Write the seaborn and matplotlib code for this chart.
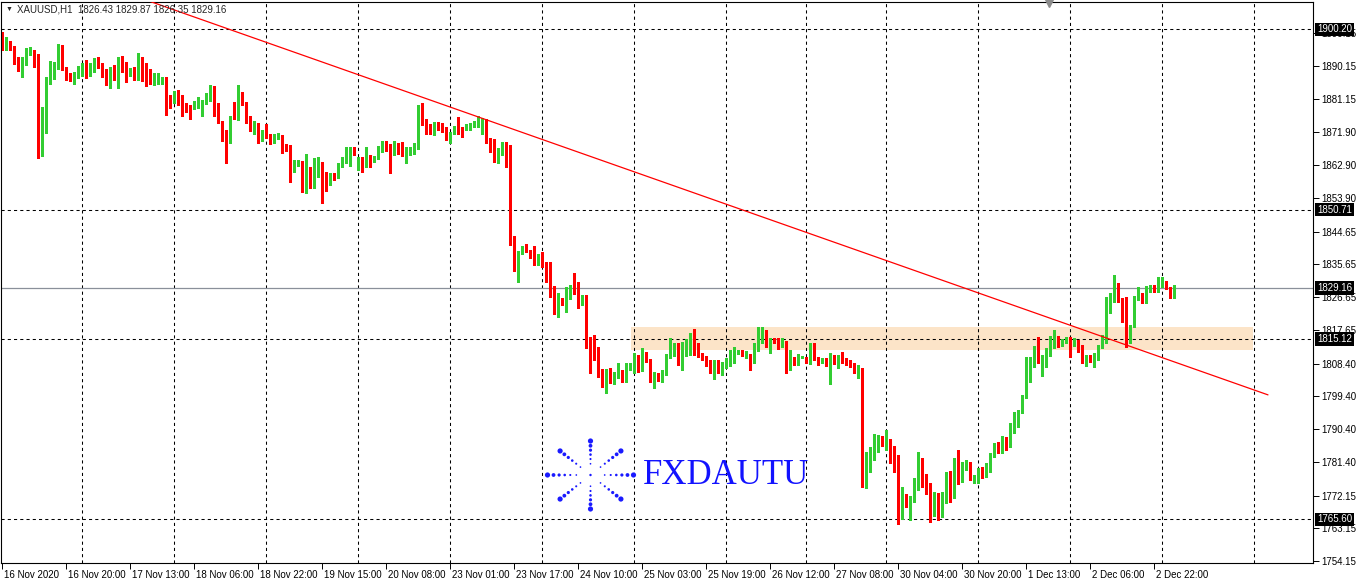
import numpy as np
import pandas as pd
import seaborn as sns
import matplotlib
matplotlib.use("Agg")
import matplotlib.pyplot as plt
import matplotlib.transforms as mtransforms

# XAUUSD H1 candles (one value per hourly bar)
opens = [
    1899.1, 1895.2, 1895.7, 1895.6, 1892.1, 1890.0, 1891.3, 1894.1, 1894.5, 1891.8,
    1869.5, 1876.5, 1886.0, 1887.7, 1889.8, 1895.4, 1889.5, 1887.2, 1886.5, 1887.5,
    1889.1, 1890.1, 1888.3, 1888.9, 1891.3, 1890.6, 1888.9, 1886.9, 1889.0, 1887.1,
    1891.0, 1890.4, 1888.6, 1889.0, 1886.8, 1891.5, 1891.0, 1888.8, 1885.7, 1885.7,
    1885.4, 1887.2, 1881.4, 1880.2, 1882.7, 1881.4, 1879.3, 1878.7, 1878.3, 1879.4,
    1879.7, 1880.0, 1882.4, 1883.8, 1879.8, 1875.0, 1872.1, 1870.5, 1876.1, 1875.5,
    1882.0, 1880.3, 1875.3, 1873.2, 1874.6, 1870.2, 1872.9, 1871.5, 1869.2, 1870.3,
    1871.2, 1868.3, 1866.9, 1862.5, 1863.4, 1864.1, 1857.2, 1861.6, 1858.8, 1862.5,
    1862.9, 1860.7, 1858.6, 1860.2, 1859.7, 1862.7, 1864.0, 1865.2, 1866.9, 1862.8,
    1863.2, 1863.0, 1865.2, 1864.1, 1864.8, 1867.5, 1869.4, 1867.4, 1866.0, 1867.7,
    1867.3, 1865.4, 1866.0, 1866.0, 1867.3, 1875.8, 1874.9, 1872.8, 1872.6, 1874.1,
    1873.9, 1873.0, 1870.5, 1872.1, 1873.5, 1873.5, 1873.0, 1873.5, 1873.8, 1874.0,
    1874.0, 1875.5, 1869.4, 1869.4, 1865.4, 1866.6, 1868.9, 1867.3, 1841.7, 1834.8,
    1839.2, 1839.9, 1839.6, 1838.2, 1836.1, 1838.2, 1836.0, 1836.4, 1829.1, 1822.2,
    1825.9, 1824.8, 1826.5, 1829.0, 1827.9, 1824.8, 1825.9, 1813.2, 1810.5, 1810.5,
    1806.2, 1805.3, 1805.9, 1803.4, 1805.0, 1806.2, 1804.1, 1807.1, 1807.4, 1809.4,
    1806.5, 1810.9, 1809.4, 1804.1, 1805.0, 1804.3, 1805.7, 1810.1, 1810.8, 1813.7,
    1808.6, 1812.9, 1813.2, 1814.4, 1813.7, 1810.8, 1810.3, 1808.9, 1806.5, 1806.9,
    1806.6, 1807.6, 1808.3, 1808.6, 1811.4, 1811.7, 1811.0, 1810.8, 1808.6, 1812.1,
    1815.3, 1816.2, 1814.1, 1814.9, 1814.7, 1813.2, 1814.4, 1807.6, 1809.8, 1808.6,
    1810.1, 1810.3, 1809.2, 1813.2, 1809.8, 1808.9, 1809.4, 1808.0, 1810.3, 1808.9,
    1810.3, 1809.4, 1808.9, 1808.0, 1806.2, 1806.9, 1778.6, 1779.0, 1782.1, 1784.8,
    1788.1, 1786.3, 1787.2, 1783.3, 1783.3, 1766.8, 1770.9, 1769.8, 1770.7, 1774.1,
    1781.9, 1776.1, 1774.1, 1767.7, 1772.0, 1768.9, 1772.6, 1778.4, 1773.2, 1781.9,
    1778.1, 1779.4, 1781.2, 1776.4, 1777.5, 1778.9, 1778.1, 1779.0, 1783.0, 1784.8,
    1784.2, 1787.4, 1786.0, 1791.1, 1793.8, 1795.2, 1799.3, 1806.4, 1808.0, 1813.0,
    1808.9, 1810.3, 1810.8, 1813.0, 1814.7, 1813.5, 1814.1, 1815.3, 1813.8, 1814.4,
    1813.2, 1808.9, 1810.5, 1809.4, 1809.8, 1812.9, 1815.6, 1825.0, 1825.7, 1830.0,
    1826.0, 1820.6, 1815.6, 1818.5, 1826.3, 1827.2, 1825.9, 1829.1, 1829.7, 1828.4,
    1830.0, 1830.9, 1829.1, 1826.43,
]
highs = [
    1899.6, 1898.1, 1897.0, 1895.7, 1892.5, 1892.5, 1895.0, 1895.4, 1894.6, 1893.4,
    1879.0, 1887.2, 1891.5, 1891.2, 1896.2, 1895.9, 1889.9, 1888.1, 1888.6, 1890.2,
    1891.1, 1891.8, 1891.0, 1892.3, 1892.7, 1890.9, 1889.2, 1889.8, 1890.4, 1892.5,
    1892.9, 1891.3, 1889.5, 1889.8, 1893.7, 1892.6, 1891.1, 1889.3, 1888.1, 1888.2,
    1887.2, 1887.2, 1882.2, 1883.4, 1883.5, 1882.3, 1879.9, 1879.4, 1880.5, 1881.6,
    1880.9, 1882.8, 1884.9, 1884.7, 1880.0, 1875.0, 1872.6, 1876.4, 1880.3, 1884.9,
    1882.9, 1880.3, 1876.3, 1875.1, 1874.6, 1872.7, 1874.1, 1871.6, 1871.5, 1871.8,
    1871.2, 1868.6, 1868.4, 1864.3, 1864.3, 1864.1, 1866.0, 1862.5, 1865.0, 1865.2,
    1863.9, 1861.1, 1860.7, 1860.7, 1863.4, 1865.2, 1867.8, 1868.0, 1867.8, 1865.2,
    1865.2, 1868.0, 1865.7, 1865.4, 1868.2, 1869.6, 1869.6, 1868.6, 1869.5, 1868.9,
    1869.2, 1868.0, 1868.0, 1869.1, 1879.4, 1879.9, 1875.5, 1874.2, 1874.9, 1874.9,
    1874.4, 1873.5, 1872.1, 1873.7, 1876.2, 1873.5, 1874.1, 1874.4, 1875.1, 1876.4,
    1876.0, 1875.5, 1870.3, 1870.0, 1867.5, 1869.4, 1869.4, 1868.4, 1843.5, 1839.3,
    1840.7, 1841.2, 1839.6, 1840.7, 1838.5, 1839.1, 1836.4, 1836.4, 1829.7, 1827.9,
    1826.3, 1829.3, 1830.0, 1833.2, 1830.9, 1827.2, 1827.2, 1815.8, 1816.3, 1812.9,
    1806.8, 1806.8, 1807.1, 1806.0, 1808.5, 1806.5, 1808.5, 1808.6, 1811.2, 1810.8,
    1812.8, 1811.5, 1809.6, 1806.2, 1805.8, 1806.6, 1811.0, 1815.3, 1814.0, 1814.1,
    1814.4, 1815.1, 1816.7, 1817.9, 1814.0, 1811.3, 1810.6, 1809.4, 1809.4, 1809.4,
    1808.9, 1809.8, 1812.1, 1812.9, 1812.1, 1812.2, 1811.9, 1811.0, 1814.0, 1818.5,
    1818.4, 1817.6, 1815.3, 1815.3, 1815.3, 1815.3, 1814.6, 1812.1, 1810.3, 1811.0,
    1810.5, 1810.3, 1814.0, 1814.0, 1810.3, 1810.0, 1809.8, 1811.2, 1810.8, 1810.8,
    1811.5, 1809.8, 1809.4, 1808.5, 1808.0, 1807.1, 1784.2, 1785.6, 1789.0, 1788.8,
    1788.5, 1790.2, 1787.6, 1785.7, 1783.3, 1774.6, 1772.6, 1772.0, 1776.9, 1784.2,
    1782.4, 1778.1, 1775.5, 1773.2, 1772.9, 1773.2, 1778.7, 1779.0, 1782.4, 1784.7,
    1781.4, 1781.9, 1781.4, 1777.8, 1779.6, 1780.1, 1781.0, 1783.9, 1786.5, 1786.9,
    1788.5, 1788.3, 1792.0, 1795.2, 1795.6, 1799.8, 1810.3, 1810.3, 1813.2, 1815.6,
    1810.8, 1812.6, 1816.0, 1817.6, 1816.0, 1815.1, 1815.6, 1815.8, 1815.3, 1814.9,
    1813.5, 1810.8, 1810.8, 1811.2, 1813.5, 1816.2, 1826.8, 1827.7, 1832.7, 1830.4,
    1826.3, 1826.6, 1818.9, 1827.0, 1829.5, 1827.7, 1829.7, 1830.0, 1830.0, 1832.1,
    1832.1, 1831.2, 1829.3, 1829.87,
]
lows = [
    1894.6, 1894.6, 1894.6, 1890.7, 1888.9, 1887.2, 1890.4, 1893.2, 1890.0, 1864.8,
    1865.5, 1871.8, 1885.2, 1886.5, 1889.3, 1889.1, 1886.4, 1886.1, 1885.3, 1886.8,
    1887.5, 1886.9, 1887.5, 1888.6, 1889.7, 1887.1, 1884.9, 1884.2, 1886.2, 1884.2,
    1888.6, 1885.8, 1887.5, 1886.3, 1886.3, 1886.1, 1884.6, 1885.1, 1884.9, 1885.3,
    1885.3, 1876.7, 1878.7, 1880.0, 1879.4, 1876.5, 1877.4, 1875.6, 1878.2, 1878.7,
    1876.5, 1879.6, 1880.5, 1876.4, 1874.4, 1869.5, 1863.6, 1869.1, 1875.7, 1875.3,
    1879.4, 1874.4, 1872.3, 1871.4, 1869.1, 1869.5, 1870.3, 1868.6, 1868.9, 1870.0,
    1866.2, 1866.8, 1858.4, 1861.1, 1862.7, 1855.6, 1855.2, 1856.5, 1856.7, 1859.7,
    1852.6, 1855.9, 1857.5, 1858.8, 1859.3, 1862.3, 1863.4, 1862.8, 1865.7, 1861.6,
    1861.1, 1862.3, 1862.3, 1863.9, 1864.6, 1866.6, 1866.9, 1860.8, 1865.8, 1866.0,
    1865.4, 1863.4, 1865.7, 1866.0, 1867.3, 1873.9, 1871.4, 1871.4, 1871.2, 1872.6,
    1872.1, 1869.8, 1868.9, 1871.6, 1871.6, 1870.6, 1872.6, 1872.7, 1873.5, 1873.5,
    1871.6, 1868.9, 1866.6, 1863.9, 1863.6, 1865.7, 1862.3, 1841.0, 1833.9, 1830.9,
    1838.5, 1839.1, 1837.3, 1835.5, 1835.5, 1834.8, 1830.9, 1826.8, 1821.9, 1821.3,
    1824.5, 1822.7, 1826.1, 1827.5, 1823.6, 1824.5, 1812.6, 1805.9, 1809.4, 1804.6,
    1802.1, 1800.2, 1803.0, 1802.8, 1804.4, 1803.2, 1803.4, 1806.5, 1805.9, 1806.2,
    1806.3, 1808.8, 1803.2, 1801.8, 1803.6, 1803.4, 1805.3, 1809.8, 1810.5, 1808.0,
    1806.5, 1810.5, 1810.8, 1810.8, 1810.2, 1809.3, 1807.8, 1805.7, 1804.1, 1805.7,
    1805.3, 1807.1, 1807.6, 1808.5, 1811.0, 1810.5, 1809.8, 1806.6, 1808.5, 1811.9,
    1814.0, 1813.0, 1811.2, 1814.0, 1812.3, 1813.0, 1805.9, 1806.6, 1808.0, 1808.0,
    1809.8, 1808.5, 1808.3, 1809.4, 1808.0, 1808.6, 1807.6, 1802.8, 1808.3, 1807.1,
    1808.5, 1808.0, 1807.4, 1805.9, 1804.4, 1774.6, 1774.3, 1778.7, 1781.9, 1784.2,
    1785.8, 1784.7, 1781.0, 1778.7, 1764.3, 1765.6, 1769.1, 1765.4, 1770.5, 1773.8,
    1774.6, 1772.6, 1764.8, 1766.5, 1765.4, 1766.3, 1770.0, 1770.5, 1771.4, 1775.3,
    1775.9, 1779.2, 1776.4, 1775.5, 1775.5, 1776.9, 1777.3, 1778.7, 1782.6, 1783.7,
    1783.7, 1784.7, 1785.4, 1789.4, 1791.1, 1794.9, 1798.9, 1803.2, 1807.5, 1808.6,
    1805.0, 1807.5, 1810.5, 1812.6, 1813.0, 1813.3, 1814.0, 1810.3, 1813.2, 1811.7,
    1808.6, 1807.7, 1808.9, 1807.5, 1809.4, 1812.6, 1814.0, 1822.2, 1825.4, 1825.4,
    1819.9, 1812.9, 1814.0, 1818.4, 1826.0, 1825.0, 1825.0, 1828.1, 1828.1, 1828.1,
    1829.5, 1828.8, 1826.3, 1826.35,
]
closes = [
    1894.8, 1895.7, 1895.4, 1891.9, 1890.2, 1891.5, 1893.9, 1894.6, 1891.6, 1869.4,
    1876.7, 1886.3, 1888.0, 1890.2, 1895.4, 1889.3, 1886.9, 1886.1, 1887.7, 1889.0,
    1890.2, 1888.3, 1889.0, 1891.3, 1890.4, 1888.6, 1886.9, 1889.0, 1887.1, 1891.1,
    1890.1, 1888.4, 1889.1, 1886.6, 1891.5, 1890.7, 1888.6, 1885.8, 1887.2, 1887.2,
    1887.2, 1881.1, 1880.3, 1883.1, 1881.1, 1878.9, 1878.3, 1878.4, 1879.6, 1880.1,
    1880.2, 1882.5, 1883.6, 1879.4, 1874.9, 1871.7, 1870.5, 1876.2, 1875.7, 1881.9,
    1880.1, 1875.0, 1873.2, 1874.6, 1870.2, 1872.4, 1871.6, 1869.4, 1870.5, 1871.2,
    1868.3, 1866.9, 1862.5, 1863.9, 1864.0, 1857.2, 1861.6, 1858.8, 1862.7, 1862.9,
    1860.7, 1858.6, 1860.2, 1859.7, 1862.9, 1864.1, 1865.7, 1866.9, 1866.0, 1863.4,
    1863.0, 1865.1, 1864.1, 1865.2, 1868.0, 1869.2, 1868.4, 1866.0, 1867.5, 1867.1,
    1865.4, 1866.6, 1867.5, 1867.7, 1875.5, 1874.1, 1872.6, 1872.3, 1873.9, 1873.7,
    1872.8, 1870.3, 1872.1, 1873.5, 1873.2, 1873.2, 1873.5, 1873.9, 1874.1, 1875.8,
    1875.3, 1869.1, 1868.9, 1865.4, 1866.6, 1868.9, 1867.1, 1841.4, 1834.8, 1839.3,
    1840.1, 1839.3, 1838.0, 1836.1, 1838.0, 1836.0, 1834.8, 1827.7, 1822.2, 1825.9,
    1824.5, 1826.8, 1829.0, 1827.5, 1824.8, 1825.9, 1812.9, 1807.7, 1810.0, 1805.9,
    1805.3, 1805.9, 1803.4, 1805.3, 1806.2, 1803.6, 1807.7, 1807.4, 1809.4, 1806.6,
    1812.3, 1809.2, 1803.6, 1805.0, 1804.3, 1805.9, 1810.5, 1811.2, 1813.5, 1808.5,
    1813.0, 1813.5, 1814.4, 1813.2, 1810.6, 1809.8, 1808.6, 1806.2, 1807.1, 1806.6,
    1808.2, 1808.6, 1809.6, 1811.4, 1811.7, 1810.8, 1811.4, 1808.6, 1812.6, 1815.3,
    1816.2, 1814.0, 1815.1, 1814.4, 1813.2, 1814.4, 1807.6, 1809.8, 1808.6, 1810.5,
    1810.2, 1808.9, 1813.5, 1809.8, 1808.9, 1809.6, 1808.0, 1810.5, 1808.7, 1810.3,
    1809.2, 1808.5, 1807.6, 1806.5, 1806.8, 1778.4, 1779.2, 1782.2, 1784.9, 1788.1,
    1786.9, 1786.9, 1783.0, 1783.0, 1766.8, 1770.9, 1769.8, 1770.6, 1774.4, 1781.5,
    1775.9, 1774.1, 1767.7, 1772.0, 1768.9, 1771.7, 1778.4, 1773.2, 1781.9, 1778.1,
    1779.8, 1781.2, 1776.4, 1777.1, 1779.2, 1778.1, 1779.2, 1783.3, 1785.1, 1784.2,
    1787.4, 1786.0, 1791.3, 1794.0, 1795.2, 1799.5, 1806.8, 1808.5, 1813.0, 1808.9,
    1810.5, 1810.9, 1813.2, 1814.7, 1813.5, 1814.9, 1815.3, 1811.4, 1815.1, 1812.9,
    1808.9, 1810.5, 1809.4, 1810.5, 1813.2, 1816.0, 1825.4, 1827.7, 1830.0, 1825.7,
    1820.4, 1815.6, 1818.7, 1826.8, 1826.9, 1825.9, 1829.5, 1829.7, 1828.4, 1830.6,
    1830.9, 1828.8, 1826.6, 1829.16,
]

time_labels = [
    "16 Nov 2020", "16 Nov 20:00", "17 Nov 13:00", "18 Nov 06:00", "18 Nov 22:00",
    "19 Nov 15:00", "20 Nov 08:00", "23 Nov 01:00", "23 Nov 17:00", "24 Nov 10:00",
    "25 Nov 03:00", "25 Nov 19:00", "26 Nov 12:00", "27 Nov 08:00", "30 Nov 04:00",
    "30 Nov 20:00", "1 Dec 13:00", "2 Dec 06:00", "2 Dec 22:00",
]
label_step = 16          # one time label every 16 bars
day_starts = [20, 43, 66, 89, 112, 135, 158, 181, 201, 221, 244, 267, 290, 313]

price_ticks = [1899.15, 1890.15, 1881.15, 1871.90, 1862.90, 1853.90, 1844.65, 1835.65,
               1826.65, 1817.65, 1808.40, 1799.40, 1790.40, 1781.40, 1772.15, 1763.15,
               1754.15]
level_lines = [1900.20, 1850.71, 1815.12, 1765.60]
bid_price = 1829.16

zone_bars = [157.25, 312.75]
zone_prices = [1812.13, 1818.45]
trend_bars = [30.0, 316.5]
trend_prices = [1910.6, 1799.8]

header = "XAUUSD,H1  1826.43 1829.87 1826.35 1829.16"

df = pd.DataFrame({"open": opens, "high": highs, "low": lows, "close": closes})
df["bar"] = np.arange(len(df))
df["up"] = df["close"] >= df["open"]

# ---- figure / style ----
W, H = 1359, 582
sns.set_style("white")
plt.rcParams["font.family"] = ["Liberation Sans", "DejaVu Sans"]

fig = plt.figure(figsize=(W / 100, H / 100), dpi=100)
fig.patch.set_facecolor("white")
# chart area in pixels: x 1..1313, y 2..563
ax = fig.add_axes([1 / W, (H - 563) / H, 1312 / W, 561 / H])
ax.set_facecolor("white")

px_per_bar = 4.0
px_per_usd = 3.64
ax.set_xlim(-0.25, -0.25 + 1312 / px_per_bar)
y_top = 1890.15 + 64 / px_per_usd
ax.set_ylim(y_top - 561 / px_per_usd, y_top)

bull, bear = "#32cd32", "#ff0000"
dash = (0, (3, 3))

# support/resistance zone
ax.fill_between(zone_bars, zone_prices[0], zone_prices[1], color="#fce4c8",
                linewidth=0, zorder=0.5)

# grid (day separators) and horizontal levels
for d in day_starts:
    ax.axvline(d, color="black", lw=0.75, ls=dash, zorder=1)
for lv in level_lines:
    ax.axhline(lv, color="black", lw=0.75, ls=dash, zorder=1)
ax.axhline(bid_price, color="#8a909a", lw=0.9, zorder=1.2)

# candles
colors = np.where(df["up"], bull, bear)
ax.vlines(df["bar"], df["low"], df["high"], colors=colors, lw=0.8, zorder=2,
          antialiased=False)
body = (df["close"] - df["open"]).to_numpy()
body = np.where(np.abs(body) < 0.28, np.where(body < 0, -0.28, 0.28), body)
ax.bar(df["bar"], body, bottom=df["open"], width=0.75, color=colors,
       linewidth=0, zorder=2.1, antialiased=False)

# trend line
sns.lineplot(x=trend_bars, y=trend_prices, color="red", lw=0.9, ax=ax,
             legend=False, zorder=3)

# axes frame and ticks
for s in ax.spines.values():
    s.set_color("black")
    s.set_linewidth(0.8)
ax.yaxis.tick_right()
ax.set_yticks(price_ticks, labels=[f"{p:.2f}" for p in price_ticks])
ax.set_xticks(np.arange(len(time_labels)) * label_step, labels=time_labels)
ax.tick_params(axis="y", right=True, left=False, length=4, width=0.7,
               pad=2, labelsize=7, colors="black")
ax.tick_params(axis="x", bottom=True, length=4, width=0.7, pad=1,
               labelsize=7, colors="black")
shift = mtransforms.ScaledTranslation(2 / 100, 0, fig.dpi_scale_trans)
for lbl in ax.get_xticklabels():
    lbl.set_horizontalalignment("left")
    lbl.set_transform(lbl.get_transform() + shift)
ax.set_xlabel("")
ax.set_ylabel("")
ax.grid(False)

# price boxes on the right axis
box_tr = mtransforms.blended_transform_factory(ax.transAxes, ax.transData)
for p in level_lines + [bid_price]:
    ax.text(1 + 4 / 1312, p, f"{p:.2f}", transform=box_tr, ha="left", va="center",
            fontsize=7, color="white", clip_on=False, zorder=5,
            bbox=dict(facecolor="black", edgecolor="none", pad=1.2))

# header
fig.text(6 / W, 1 - 9 / H, "\u25bc", fontsize=5, va="center", ha="left")
fig.text(17 / W, 1 - 9 / H, header, fontsize=7, va="center", ha="left")
fig.lines.append(plt.Line2D([1049 / W], [1 - 3 / H], marker="v", markersize=6,
                            color="#8c8c8c", transform=fig.transFigure))

# watermark logo + text
cx, cy, rx, ry = 590.5, 475.0, 43.0, 34.0
steps = [1.0, 0.86, 0.73, 0.6, 0.47, 0.33]
sizes = [5.2, 3.8, 3.2, 2.6, 2.1, 1.7]
lx, ly, ls = [cx], [cy], [2.4]
for ang in np.deg2rad(np.arange(0, 360, 45)):
    for t, d in zip(steps, sizes):
        lx.append(cx + rx * t * np.cos(ang))
        ly.append(cy - ry * t * np.sin(ang))
        ls.append(d)
ax.scatter(np.array(lx) / W, 1 - np.array(ly) / H, s=(np.array(ls) * 0.72) ** 2,
           color="#1a1aff", transform=fig.transFigure, clip_on=False,
           linewidths=0, zorder=1.5)
fig.text(643 / W, 1 - 475 / H, "FXDAUTU", fontsize=25, family="Liberation Serif",
         color="#1212ff", va="center", ha="left")

fig.savefig("out.png", dpi=100, facecolor="white")
